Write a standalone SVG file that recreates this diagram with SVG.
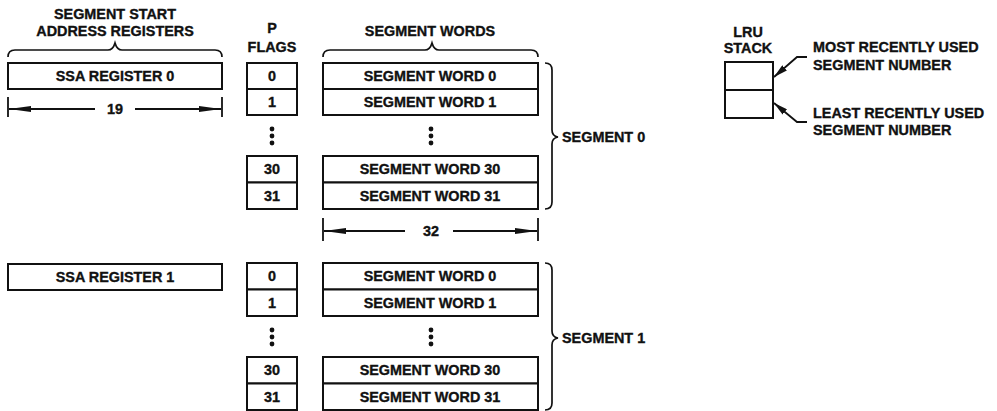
<svg xmlns="http://www.w3.org/2000/svg" width="997" height="411" viewBox="0 0 997 411">
<style>
text{font-family:"Liberation Sans",Arial,sans-serif;font-weight:bold;font-size:14.4px;fill:#111;stroke:#111;stroke-width:0.35}
.m{text-anchor:middle}
.box{fill:#fff;stroke:#111;stroke-width:2}
.br{fill:none;stroke:#111;stroke-width:1.7}
.dim{stroke:#111;stroke-width:1.8;fill:none}
.dot{fill:#111}
</style>
<defs>
<marker id="dimArrow" viewBox="0 0 22 7" refX="22" refY="3.5" markerWidth="22" markerHeight="7" markerUnits="userSpaceOnUse" orient="auto">
<path d="M0,0.5 L22,3.5 L0,6.5 z" fill="#111"/>
</marker>
<marker id="ptr" viewBox="0 0 14 7" refX="14" refY="3.5" markerWidth="14" markerHeight="7" markerUnits="userSpaceOnUse" orient="auto">
<path d="M0,0 L14,3.5 L0,7 z" fill="#111"/>
</marker>
</defs>

<g id="headers">
<text class="m" x="115" y="19">SEGMENT START</text>
<text class="m" x="115" y="36">ADDRESS REGISTERS</text>
<text class="m" x="272" y="33">P</text>
<text class="m" x="272" y="52">FLAGS</text>
<text class="m" x="430" y="36">SEGMENT WORDS</text>
<text class="m" x="748" y="37">LRU</text>
<text class="m" x="748" y="53">STACK</text>
</g>

<g id="braces">
<path class="br" d="M8 57 Q8 50 15 50 L108 50 Q113 50 115 43 Q117 50 122 50 L215 50 Q222 50 222 57"/>
<path class="br" d="M323 57 Q323 50 330 50 L425 50 Q430 50 432 43 Q434 50 439 50 L531 50 Q538 50 538 57"/>
<path class="br" d="M545 63 Q552 63 552 70 L552 130 Q552 136 558 137 Q552 138 552 144 L552 202 Q552 209 545 209"/>
<path class="br" d="M545 263 Q552 263 552 270 L552 331 Q552 337 558 338 Q552 339 552 345 L552 403 Q552 410 545 410"/>
<text x="562" y="142">SEGMENT 0</text>
<text x="562" y="343">SEGMENT 1</text>
</g>

<g id="ssa0">
<rect class="box" x="8" y="63" width="214" height="26"/>
<text class="m" x="115" y="81">SSA REGISTER 0</text>
</g>
<g id="ssa1">
<rect class="box" x="8" y="264" width="214" height="26"/>
<text class="m" x="115" y="282">SSA REGISTER 1</text>
</g>

<g id="pflags0">
<rect class="box" x="247" y="63" width="50" height="26"/>
<rect class="box" x="247" y="89" width="50" height="26"/>
<text class="m" x="272" y="81">0</text>
<text class="m" x="272" y="107">1</text>
<circle class="dot" cx="272" cy="129" r="2.4"/>
<circle class="dot" cx="272" cy="136" r="2.4"/>
<circle class="dot" cx="272" cy="143" r="2.4"/>
<rect class="box" x="247" y="156" width="50" height="26.5"/>
<rect class="box" x="247" y="182.5" width="50" height="26.5"/>
<text class="m" x="272" y="174">30</text>
<text class="m" x="272" y="201">31</text>
</g>

<g id="words0">
<rect class="box" x="323" y="63" width="215" height="26"/>
<rect class="box" x="323" y="89" width="215" height="26"/>
<text class="m" x="430" y="81">SEGMENT WORD 0</text>
<text class="m" x="430" y="107">SEGMENT WORD 1</text>
<circle class="dot" cx="431" cy="129" r="2.4"/>
<circle class="dot" cx="431" cy="136" r="2.4"/>
<circle class="dot" cx="431" cy="143" r="2.4"/>
<rect class="box" x="323" y="156" width="215" height="26.5"/>
<rect class="box" x="323" y="182.5" width="215" height="26.5"/>
<text class="m" x="430" y="174">SEGMENT WORD 30</text>
<text class="m" x="430" y="201">SEGMENT WORD 31</text>
</g>

<g id="pflags1">
<rect class="box" x="247" y="263" width="50" height="26.5"/>
<rect class="box" x="247" y="289.5" width="50" height="26.5"/>
<text class="m" x="272" y="281">0</text>
<text class="m" x="272" y="308">1</text>
<circle class="dot" cx="272" cy="330" r="2.4"/>
<circle class="dot" cx="272" cy="337" r="2.4"/>
<circle class="dot" cx="272" cy="344" r="2.4"/>
<rect class="box" x="247" y="357" width="50" height="26.5"/>
<rect class="box" x="247" y="383.5" width="50" height="26.5"/>
<text class="m" x="272" y="375">30</text>
<text class="m" x="272" y="402">31</text>
</g>

<g id="words1">
<rect class="box" x="323" y="263" width="215" height="26.5"/>
<rect class="box" x="323" y="289.5" width="215" height="26.5"/>
<text class="m" x="430" y="281">SEGMENT WORD 0</text>
<text class="m" x="430" y="308">SEGMENT WORD 1</text>
<circle class="dot" cx="431" cy="330" r="2.4"/>
<circle class="dot" cx="431" cy="337" r="2.4"/>
<circle class="dot" cx="431" cy="344" r="2.4"/>
<rect class="box" x="323" y="357" width="215" height="26.5"/>
<rect class="box" x="323" y="383.5" width="215" height="26.5"/>
<text class="m" x="430" y="375">SEGMENT WORD 30</text>
<text class="m" x="430" y="402">SEGMENT WORD 31</text>
</g>

<g id="lru">
<rect class="box" x="725" y="62" width="48" height="28"/>
<rect class="box" x="725" y="90" width="48" height="28"/>
<text x="813" y="52">MOST RECENTLY USED</text>
<text x="813" y="70">SEGMENT NUMBER</text>
<text x="813" y="118">LEAST RECENTLY USED</text>
<text x="813" y="135">SEGMENT NUMBER</text>
</g>

<g id="connectors">
<line class="dim" x1="8" y1="97" x2="8" y2="117"/>
<line class="dim" x1="222" y1="97" x2="222" y2="117"/>
<line class="dim" x1="95" y1="109" x2="9" y2="109" marker-end="url(#dimArrow)"/>
<line class="dim" x1="135" y1="109" x2="221" y2="109" marker-end="url(#dimArrow)"/>
<text class="m" x="115" y="114">19</text>

<line class="dim" x1="323" y1="218" x2="323" y2="241"/>
<line class="dim" x1="538" y1="218" x2="538" y2="241"/>
<line class="dim" x1="405" y1="231" x2="324" y2="231" marker-end="url(#dimArrow)"/>
<line class="dim" x1="453" y1="231" x2="537" y2="231" marker-end="url(#dimArrow)"/>
<text class="m" x="431" y="236">32</text>

<polyline class="dim" points="807,57 797,57 774,77" marker-end="url(#ptr)"/>
<polyline class="dim" points="807,122 797,122 774,103" marker-end="url(#ptr)"/>
</g>
</svg>
